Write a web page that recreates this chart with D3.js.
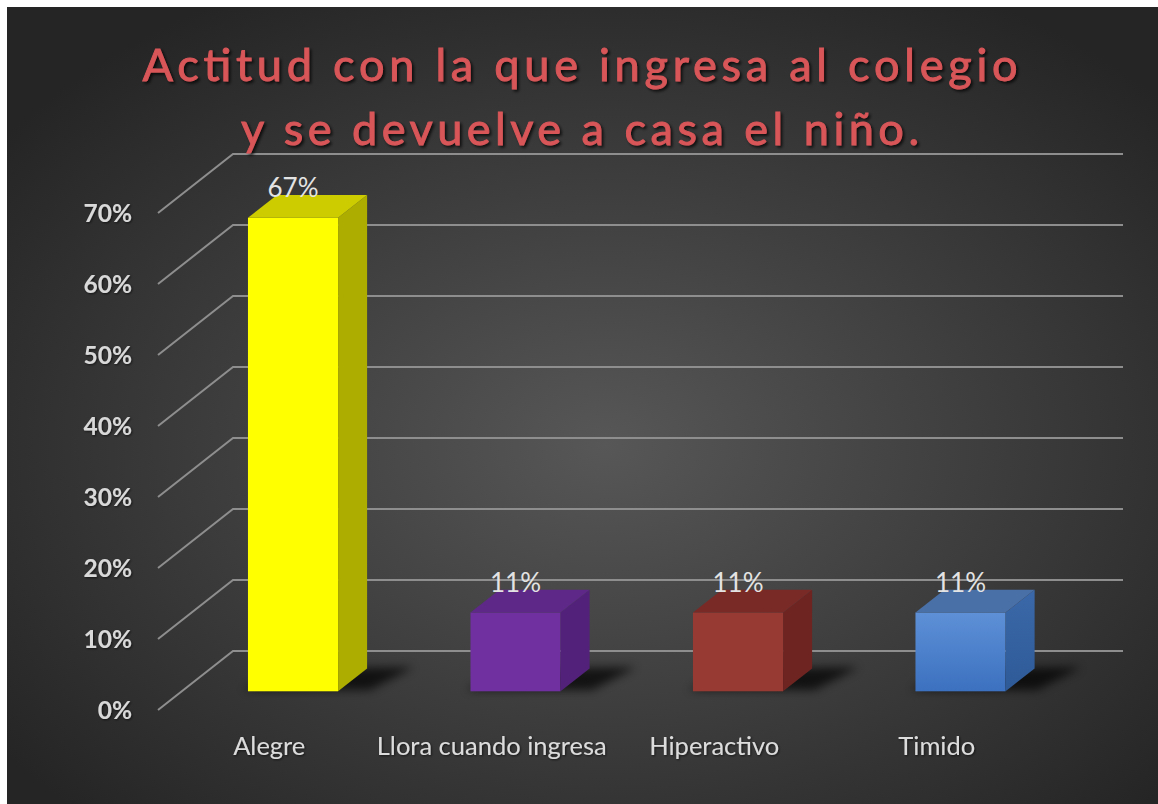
<!DOCTYPE html>
<html><head><meta charset="utf-8">
<script src="https://cdn.jsdelivr.net/npm/d3@7"></script>
<style>
html,body{margin:0;padding:0;background:#fff;}
svg{display:block;}
</style></head>
<body>
<script>
// ---- data ----
const categories = ["Alegre", "Llora cuando ingresa", "Hiperactivo", "Timido"];
const values = [0.667, 0.111, 0.111, 0.111];
const yTicks = [0, 0.1, 0.2, 0.3, 0.4, 0.5, 0.6, 0.7];
const titleLines = ["Actitud con la que ingresa al colegio", "y se devuelve a casa el niño."];

// ---- styles ----
const barColors = [
  {front:"#ffff00", top:"#cccc00", side:"#adad00"},
  {front:"#7030a0", top:"#5d2888", side:"#52227a"},
  {front:"#983a34", top:"#7a2a26", side:"#6e2521"},
  {front:"url(#blueFront)", top:"#4a70a8", side:"url(#blueSide)"}
];

const W = 1158, H = 804;
const svg = d3.select("body").append("svg").attr("width", W).attr("height", H);
const defs = svg.append("defs");

const bg = defs.append("radialGradient").attr("id","bg").attr("cx","52%").attr("cy","55%").attr("r","65%");
bg.append("stop").attr("offset","0%").attr("stop-color","#575757");
bg.append("stop").attr("offset","100%").attr("stop-color","#252525");

const bf = defs.append("linearGradient").attr("id","blueFront").attr("x1",0).attr("y1",0).attr("x2",0).attr("y2",1);
bf.append("stop").attr("offset","0%").attr("stop-color","#5d90d6");
bf.append("stop").attr("offset","100%").attr("stop-color","#3c71c0");
const bs = defs.append("linearGradient").attr("id","blueSide").attr("x1",0).attr("y1",0).attr("x2",0).attr("y2",1);
bs.append("stop").attr("offset","0%").attr("stop-color","#3b68a8");
bs.append("stop").attr("offset","100%").attr("stop-color","#2e5a98");

const sh = defs.append("filter").attr("id","tshadow").attr("x","-10%").attr("y","-30%").attr("width","120%").attr("height","160%");
sh.append("feDropShadow").attr("dx",2).attr("dy",2).attr("stdDeviation",1.5).attr("flood-color","#000").attr("flood-opacity",0.75);
const bl = defs.append("filter").attr("id","blur").attr("x","-50%").attr("y","-200%").attr("width","200%").attr("height","500%");
bl.append("feGaussianBlur").attr("stdDeviation",5);
const ls = defs.append("filter").attr("id","lshadow").attr("x","-10%").attr("y","-30%").attr("width","120%").attr("height","160%");
ls.append("feDropShadow").attr("dx",1).attr("dy",1).attr("stdDeviation",1).attr("flood-color","#000").attr("flood-opacity",0.6);

// chart area
svg.append("rect").attr("x",7).attr("y",7).attr("width",W-7).attr("height",H-7).attr("fill","url(#bg)");

// ---- 3D geometry ----
const DX = 75, DY = -59;            // full depth offset of the wall
const dFront = 0.317, dBack = 0.704; // bar depth range (fraction)
const x = d3.scaleBand().domain(categories).range([158, 1048]).padding(0);
const y = d3.scaleLinear().domain([0, 0.7]).range([710, 213]);
const barW = x.bandwidth() * 0.405;
const P = (px, v, d) => [px + d * DX, y(v) + d * DY];

// gridlines
const grid = svg.append("g").attr("stroke","#8e8e8e").attr("stroke-width",2).attr("fill","none");
yTicks.forEach(t => {
  const a = P(x.range()[0], t, 0), b = P(x.range()[0], t, 1), c = P(x.range()[1], t, 1);
  grid.append("polyline").attr("points", [a, b, c].map(p => p.join(",")).join(" "));
});

// tick labels
svg.append("g").selectAll("text").data(yTicks).join("text")
  .attr("x", 132).attr("y", d => y(d)).attr("dy","0.36em")
  .attr("text-anchor","end")
  .attr("font-family","Lato, 'Open Sans', sans-serif").attr("font-weight","bold").attr("font-size",24.5)
  .attr("fill","#d9d9d9").attr("filter","url(#lshadow)")
  .text(d3.format(".0%"));

// bars
const bars = svg.append("g");
categories.forEach((c, i) => {
  const v = values[i], col = barColors[i];
  const cx = x(c) + x.bandwidth() / 2;
  const x0 = cx - barW / 2, x1 = cx + barW / 2;
  const poly = pts => pts.map(p => p.join(",")).join(" ");
  // floor shadow
  bars.append("polygon")
    .attr("points", poly([P(x0 - 6, 0, dFront + 0.02), P(x1 + 30, 0, dFront + 0.02), P(x1 + 45, 0, dBack + 0.02), P(x0 + 10, 0, dBack)]))
    .attr("fill","#000").attr("opacity",0.7).attr("filter","url(#blur)");
  // front
  const fb = P(x0, 0, dFront), ft = P(x1, v, dFront);
  bars.append("rect").attr("x", fb[0]).attr("y", ft[1]).attr("width", barW).attr("height", fb[1] - ft[1]).attr("fill", col.front);
  // side
  bars.append("polygon").attr("points", poly([P(x1, 0, dFront), P(x1, v, dFront), P(x1, v, dBack), P(x1, 0, dBack)])).attr("fill", col.side);
  // top
  bars.append("polygon").attr("points", poly([P(x0, v, dFront), P(x1, v, dFront), P(x1, v, dBack), P(x0, v, dBack)])).attr("fill", col.top);
  // data label
  const lx = P(cx, v, dFront)[0], ly = P(cx, v, dBack)[1];
  bars.append("text").attr("x", lx).attr("y", ly + 2)
    .attr("text-anchor","middle")
    .attr("font-family","Lato, 'Open Sans', sans-serif").attr("font-size",26)
    .attr("fill","#e3e3e3")
    .text(d3.format(".0%")(v));
});

// category labels
svg.append("g").selectAll("text").data(categories).join("text")
  .attr("x", d => x(d) + x.bandwidth() / 2)
  .attr("y", 755)
  .attr("text-anchor","middle")
  .attr("font-family","Lato, 'Open Sans', sans-serif").attr("font-size",25.5)
  .attr("fill","#dcdcdc").attr("filter","url(#lshadow)")
  .text(d => d);

// title
const titleLens = [875, 678];
const titleBase = [81, 145];
svg.append("g").selectAll("text").data(titleLines).join("text")
  .attr("x", 580).attr("y", (d, i) => titleBase[i])
  .attr("text-anchor","middle")
  .attr("font-family","Lato, 'Open Sans', sans-serif").attr("font-size",45)
  .attr("textLength", (d, i) => titleLens[i]).attr("lengthAdjust","spacing")
  .attr("fill","#d95659").attr("stroke","#d95659").attr("stroke-width",0.9)
  .attr("filter","url(#tshadow)")
  .text(d => d);
</script>
</body></html>
